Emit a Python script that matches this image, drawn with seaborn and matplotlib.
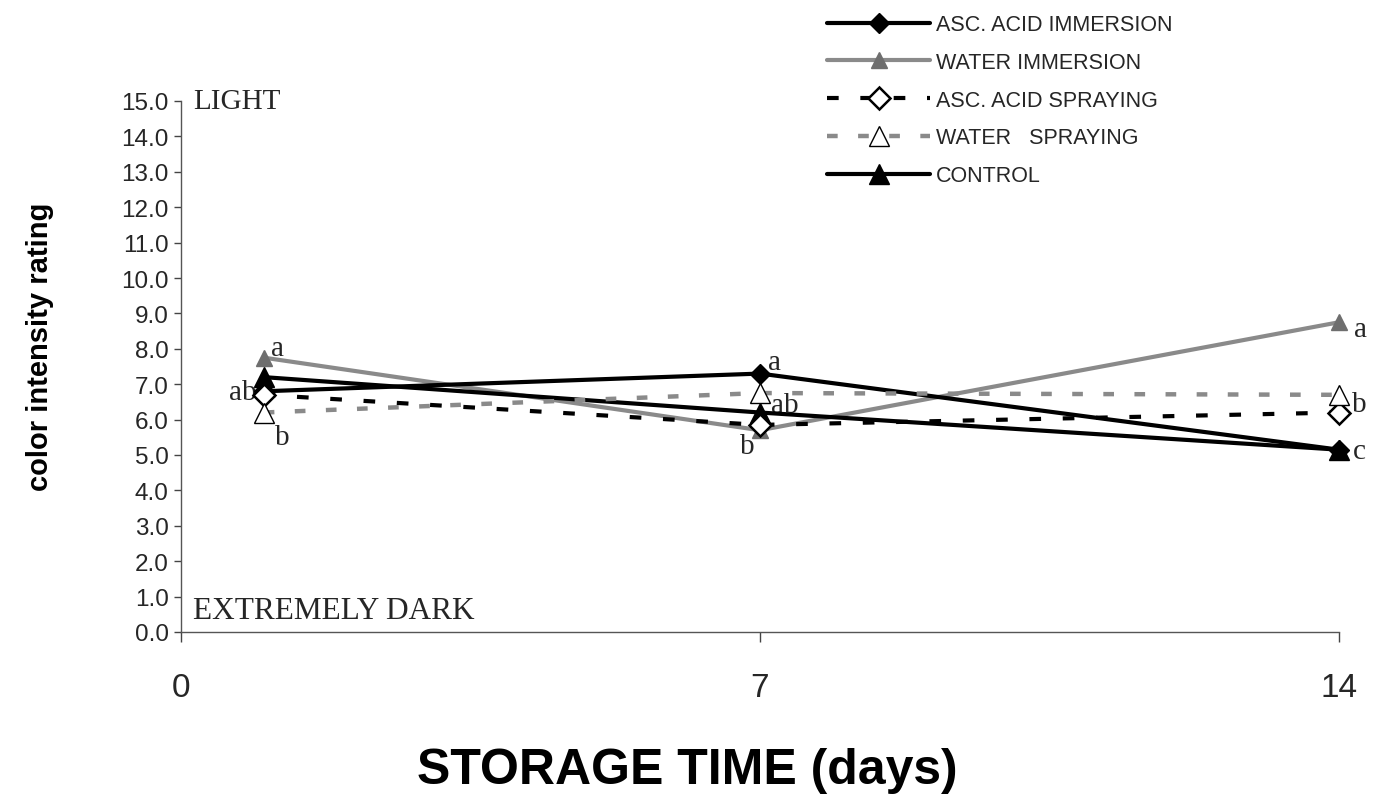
import matplotlib
matplotlib.use("Agg")
import matplotlib.pyplot as plt
import seaborn as sns
import pandas as pd

# ---- data ----
days = [1, 7, 14]
asc_immersion = [6.8, 7.3, 5.15]
water_immersion = [7.75, 5.7, 8.75]
asc_spraying = [6.7, 5.85, 6.2]
water_spraying = [6.2, 6.75, 6.7]
control = [7.2, 6.2, 5.15]

series_names = ["ASC. ACID IMMERSION", "WATER IMMERSION", "ASC. ACID SPRAYING",
                "WATER   SPRAYING", "CONTROL"]
series_values = [asc_immersion, water_immersion, asc_spraying, water_spraying, control]

x_ticks = [0, 7, 14]
y_ticks = [i * 1.0 for i in range(16)]

letters_day1 = ["a", "ab", "b"]
letters_day7 = ["a", "ab", "b"]
letters_day14 = ["a", "b", "c"]

sns.set_style("ticks")
plt.rcParams["font.family"] = ["Liberation Sans", "DejaVu Sans"]

rows = []
for name, vals in zip(series_names, series_values):
    for d, v in zip(days, vals):
        rows.append({"treatment": name, "day": d, "rating": v})
df = pd.DataFrame(rows)

fig = plt.figure(figsize=(13.73, 8.12), dpi=100)
ax = fig.add_axes([181 / 1373, 1 - 633 / 812, (1339 - 181) / 1373, (633 - 102) / 812])

styles = {
    "ASC. ACID IMMERSION": dict(color="black", lw=3.0, ls="-", marker="D", ms=10,
                                mfc="black", mec="black", zorder=4),
    "WATER IMMERSION": dict(color="#8a8a8a", lw=3.0, ls="-", marker="^", ms=12,
                            mfc="#6e6e6e", mec="#6e6e6e", zorder=3),
    "ASC. ACID SPRAYING": dict(color="black", lw=3.0, ls=(0, (2.8, 5.2)), marker="D", ms=11,
                               mfc="white", mec="black", mew=1.8, zorder=5),
    "WATER   SPRAYING": dict(color="#8a8a8a", lw=3.2, ls=(0, (2.4, 4.6)), marker="^", ms=14,
                            mfc="white", mec="black", mew=1.0, zorder=5),
    "CONTROL": dict(color="black", lw=3.0, ls="-", marker="^", ms=14,
                    mfc="black", mec="black", zorder=4),
}

for name in series_names:
    st = dict(styles[name])
    sub = df[df["treatment"] == name]
    sns.lineplot(data=sub, x="day", y="rating", ax=ax, label=name,
                 color=st.pop("color"), linewidth=st.pop("lw"), linestyle=st.pop("ls"),
                 marker=st.pop("marker"), markersize=st.pop("ms"),
                 markerfacecolor=st.pop("mfc"), markeredgecolor=st.pop("mec"),
                 markeredgewidth=st.pop("mew", 1.0), zorder=st.pop("zorder"),
                 clip_on=False)

if ax.get_legend() is not None:
    ax.get_legend().remove()

ax.set_xlim(0, 14)
ax.set_ylim(0, 15)
ax.set_xticks(x_ticks)
ax.set_xticklabels([str(t) for t in x_ticks], fontsize=24)
ax.set_yticks(y_ticks)
ax.set_yticklabels([f"{t:.1f}" for t in y_ticks], fontsize=17.5)
ax.tick_params(axis="y", length=5, width=1, color="#444444", pad=4)
ax.tick_params(axis="x", length=7, width=1, color="#444444", pad=22)
for s in ["top", "right"]:
    ax.spines[s].set_visible(False)
for s in ["left", "bottom"]:
    ax.spines[s].set_color("#555555")
    ax.spines[s].set_linewidth(1.0)

ax.set_xlabel("STORAGE TIME (days)", fontsize=36, fontweight="bold", color="black")
ax.xaxis.set_label_coords((687 - 181) / 1158, (633 - 748) / 531)
ax.set_ylabel("color intensity rating", fontsize=21, fontweight="bold", color="black")
ax.yaxis.set_label_coords((54 - 181) / 1158, (633 - 347) / 531)

serif = ["Liberation Serif", "DejaVu Serif"]
ax.text(0.15, 15.0, "LIGHT", family=serif, fontsize=21, ha="left", va="center")
ax.text(0.15, 0.6, "EXTREMELY DARK", family=serif, fontsize=22.5, ha="left", va="center")

def letter(x, y, txt, dx, dy, ha="left"):
    ax.annotate(txt, xy=(x, y), xytext=(dx * 0.72, dy * 0.72), textcoords="offset points",
                family=serif, fontsize=21, ha=ha, va="center", annotation_clip=False)

# day 1
letter(days[0], water_immersion[0], letters_day1[0], 7, 10)
letter(days[0], asc_spraying[0], letters_day1[1], -7, 3, ha="right")
letter(days[0], water_spraying[0], letters_day1[2], 11, -24)
# day 7
letter(days[1], asc_immersion[1], letters_day7[0], 8, 12)
letter(days[1], control[1], letters_day7[1], 25, 8, ha="center")
letter(days[1], water_immersion[1], letters_day7[2], -13, -16, ha="center")
# day 14
letter(days[2], water_immersion[2], letters_day14[0], 15, -7)
letter(days[2], (water_spraying[2] + asc_spraying[2]) / 2, letters_day14[1], 13, 0)
letter(days[2], control[2], letters_day14[2], 14, -1)

handles, labels = ax.get_legend_handles_labels()
fig.legend(handles, labels, loc="upper left", bbox_to_anchor=(812 / 1373, 1 - 0 / 812),
           frameon=False, fontsize=15.5, handlelength=4.8, handletextpad=0.25,
           labelspacing=0.78, borderpad=0.2)

fig.savefig("out.png", dpi=100)
